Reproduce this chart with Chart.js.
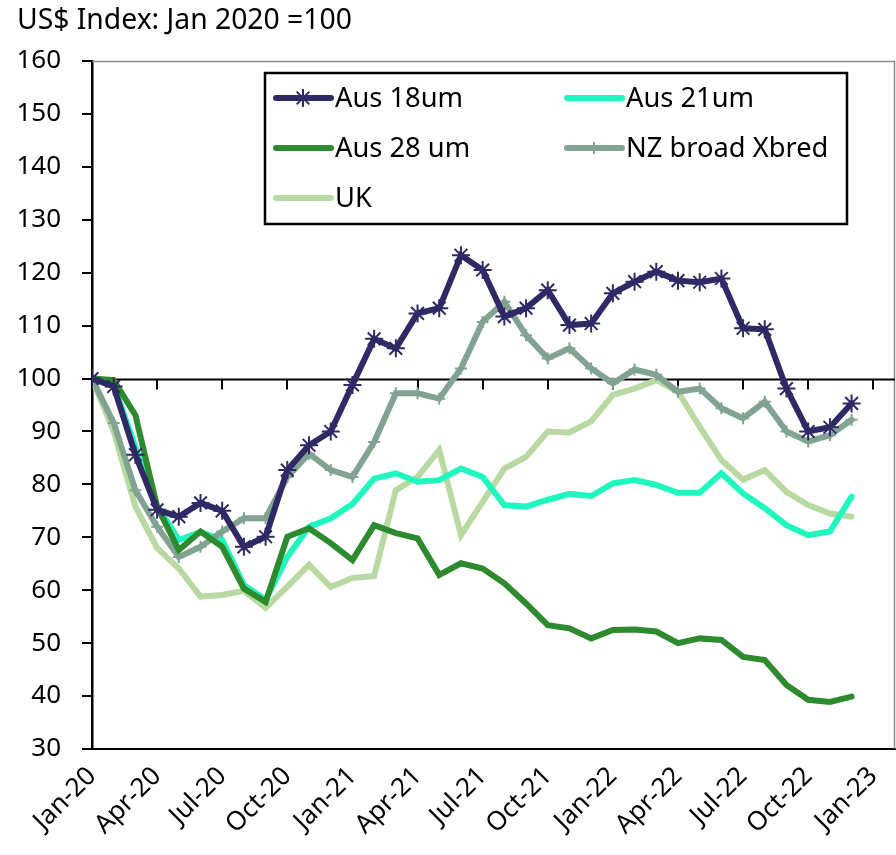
<!DOCTYPE html>
<html>
<head>
<meta charset="utf-8">
<script src="https://cdn.jsdelivr.net/npm/chart.js@4/dist/chart.umd.min.js"></script>
<style>
  html, body { margin: 0; padding: 0; background: #ffffff; }
  #wrap { width: 896px; height: 855px; }
</style>
</head>
<body>
<div id="wrap"><canvas id="c" width="896" height="855"></canvas></div>
<script>
// ---- data (monthly, Jan-20 .. Dec-22) ----
const months = ['Jan-20','Feb-20','Mar-20','Apr-20','May-20','Jun-20','Jul-20','Aug-20','Sep-20','Oct-20','Nov-20','Dec-20',
  'Jan-21','Feb-21','Mar-21','Apr-21','May-21','Jun-21','Jul-21','Aug-21','Sep-21','Oct-21','Nov-21','Dec-21',
  'Jan-22','Feb-22','Mar-22','Apr-22','May-22','Jun-22','Jul-22','Aug-22','Sep-22','Oct-22','Nov-22','Dec-22'];
const tickLabels = ['Jan-20','Apr-20','Jul-20','Oct-20','Jan-21','Apr-21','Jul-21','Oct-21','Jan-22','Apr-22','Jul-22','Oct-22','Jan-23'];
const yTicks = [30,40,50,60,70,80,90,100,110,120,130,140,150,160];

const aus18 = [100,98.5,85.6,75.2,73.9,76.5,75.0,68.2,70.1,82.7,87.4,90.0,
  98.8,107.5,105.7,112.3,113.3,123.3,120.5,111.7,113.3,116.7,110.1,110.4,
  116.1,118.3,120.2,118.5,118.2,118.9,109.5,109.3,98.1,90.0,90.8,95.3];
const aus21 = [100,98.8,87.0,76.0,69.5,71.0,69.5,61.0,58.2,66.3,72.0,73.6,
  76.3,81.1,82.1,80.5,80.8,83.0,81.4,76.1,75.8,77.1,78.2,77.8,
  80.2,80.8,79.9,78.4,78.4,82.1,78.3,75.5,72.3,70.4,71.1,77.7];
const aus28 = [100,99.7,93.1,75.8,67.6,71.1,68.2,60.3,57.8,70.1,71.7,68.9,
  65.7,72.3,70.8,69.8,62.9,65.1,64.1,61.3,57.5,53.4,52.8,50.9,
  52.5,52.6,52.2,50.0,50.9,50.6,47.4,46.8,42.1,39.3,38.9,39.9];
const nzXbred = [100,91.6,78.9,72.0,66.3,68.2,71.1,73.6,73.6,81.4,85.8,82.7,
  81.4,88.0,97.2,97.2,96.2,101.9,110.7,114.5,108.2,103.8,105.7,101.9,
  99.1,101.7,100.7,97.5,98.1,94.4,92.5,95.6,90.0,88.1,89.3,92.2];
const uk = [100,90.0,75.8,68.0,64.1,58.8,59.1,59.9,56.7,60.7,64.8,60.6,
  62.3,62.7,78.9,81.4,86.5,70.4,76.7,83.0,85.2,90.0,89.8,91.9,
  96.9,98.1,99.7,97.5,90.9,84.6,80.9,82.7,78.6,76.1,74.5,73.9];

const seriesNames = ['Aus 18um','Aus 21um','Aus 28 um','NZ broad Xbred','UK'];
const seriesColors = ['#2F2A66','#1EF7BE','#2D8A2F','#82A392','#B8D9A1'];

const FONT = '"Noto Sans", "Open Sans", sans-serif';

function pts(arr) { return arr.map((v, i) => ({ x: i, y: v })); }

const baseLine = {
  id: 'baseLine',
  beforeDatasetsDraw(chart) {
    const { ctx, chartArea: a, scales } = chart;
    ctx.save();
    // grey top/right frame
    ctx.strokeStyle = '#8a8a8a';
    ctx.lineWidth = 1.5;
    ctx.beginPath();
    ctx.moveTo(a.left, a.top + 0.5);
    ctx.lineTo(a.right - 0.5, a.top + 0.5);
    ctx.lineTo(a.right - 0.5, a.bottom);
    ctx.stroke();
    // crossing line at 100 with quarter tick marks
    const y = Math.round(scales.y.getPixelForValue(100)) + 0.5;
    ctx.strokeStyle = '#000';
    ctx.lineWidth = 2;
    ctx.beginPath();
    ctx.moveTo(a.left, y);
    ctx.lineTo(a.right, y);
    ctx.stroke();
    for (let k = 0; k < tickLabels.length; k++) {
      const x = Math.round(scales.x.getPixelForValue(k * 3));
      ctx.beginPath();
      ctx.moveTo(x, y);
      ctx.lineTo(x, y + 10);
      ctx.stroke();
    }
    ctx.restore();
  }
};

const customLegend = {
  id: 'customLegend',
  afterDraw(chart) {
    const ctx = chart.ctx;
    ctx.save();
    // title
    ctx.fillStyle = '#000';
    ctx.font = '28.3px ' + FONT;
    ctx.textBaseline = 'alphabetic';
    ctx.textAlign = 'left';
    ctx.fillText('US$ Index: Jan 2020 =100', 17, 29);
    // legend box
    ctx.fillStyle = '#fff';
    ctx.fillRect(265, 73, 582, 151);
    ctx.strokeStyle = '#000';
    ctx.lineWidth = 2.5;
    ctx.strokeRect(265, 73, 582, 151);
    const cols = [276, 567];
    const rows = [98, 148, 198];
    chart.data.datasets.forEach((ds, i) => {
      const cx = cols[i % 2];
      const cy = rows[Math.floor(i / 2)];
      ctx.strokeStyle = ds.borderColor;
      ctx.lineWidth = 6;
      ctx.lineCap = 'round';
      ctx.beginPath();
      ctx.moveTo(cx, cy);
      ctx.lineTo(cx + 55, cy);
      ctx.stroke();
      if (ds.pointRadius > 0) {
        ctx.lineCap = 'butt';
        ctx.lineWidth = ds.pointBorderWidth;
        ctx.strokeStyle = ds.pointBorderColor;
        ctx.fillStyle = ds.pointBorderColor;
        Chart.helpers.drawPoint(ctx, { pointStyle: ds.pointStyle, radius: ds.pointRadius, borderWidth: ds.pointBorderWidth, rotation: 0 }, cx + 27, cy);
      }
      ctx.fillStyle = '#000';
      ctx.font = '27.3px ' + FONT;
      ctx.textBaseline = 'middle';
      ctx.fillText(ds.label, cx + 59, cy + 1);
    });
    ctx.restore();
  }
};

const datasets = [aus18, aus21, aus28, nzXbred, uk].map((arr, i) => ({
  label: seriesNames[i],
  data: pts(arr),
  borderColor: seriesColors[i],
  backgroundColor: seriesColors[i],
  borderWidth: 6,
  tension: 0,
  pointRadius: 0,
  pointHoverRadius: 0,
  borderJoinStyle: 'miter',
  borderCapStyle: 'round'
}));
// markers
Object.assign(datasets[0], { pointStyle: 'star', pointRadius: 9, pointBorderWidth: 2, pointBorderColor: seriesColors[0], order: 0 });
Object.assign(datasets[3], { pointStyle: 'cross', pointRadius: 6, pointBorderWidth: 2, pointBorderColor: seriesColors[3], order: 2 });
datasets[2].order = 1;
datasets[1].order = 3;
datasets[4].order = 4;

new Chart(document.getElementById('c'), {
  type: 'line',
  data: { datasets },
  options: {
    responsive: false,
    animation: false,
    events: [],
    layout: { autoPadding: false, padding: { top: 61, right: 1, left: 0, bottom: 0 } },
    plugins: { legend: { display: false }, title: { display: false }, tooltip: { enabled: false } },
    scales: {
      x: {
        type: 'linear',
        min: 0,
        max: 37,
        afterBuildTicks(scale) { scale.ticks = tickLabels.map((_, k) => ({ value: k * 3 })); },
        afterFit(scale) { scale.height = 106; scale.paddingLeft = 0; scale.paddingRight = 0; },
        grid: { display: false },
        border: { display: true, color: '#000', width: 2 },
        ticks: {
          autoSkip: false,
          maxRotation: 45,
          minRotation: 45,
          padding: 4,
          color: '#000',
          font: { family: FONT, size: 26 },
          callback: (v) => tickLabels[Math.round(v / 3)] ?? ''
        }
      },
      y: {
        min: 30,
        max: 160,
        afterBuildTicks(scale) { scale.ticks = yTicks.map(v => ({ value: v })); },
        afterFit(scale) { scale.width = 92; scale.paddingTop = 0; scale.paddingBottom = 0; },
        grid: { drawOnChartArea: false, drawTicks: true, tickLength: 10, color: '#000', lineWidth: 2 },
        border: { display: true, color: '#000', width: 2.5 },
        ticks: {
          padding: 21,
          color: '#000',
          font: { family: FONT, size: 26 }
        }
      }
    }
  },
  plugins: [baseLine, customLegend]
});
</script>
</body>
</html>
